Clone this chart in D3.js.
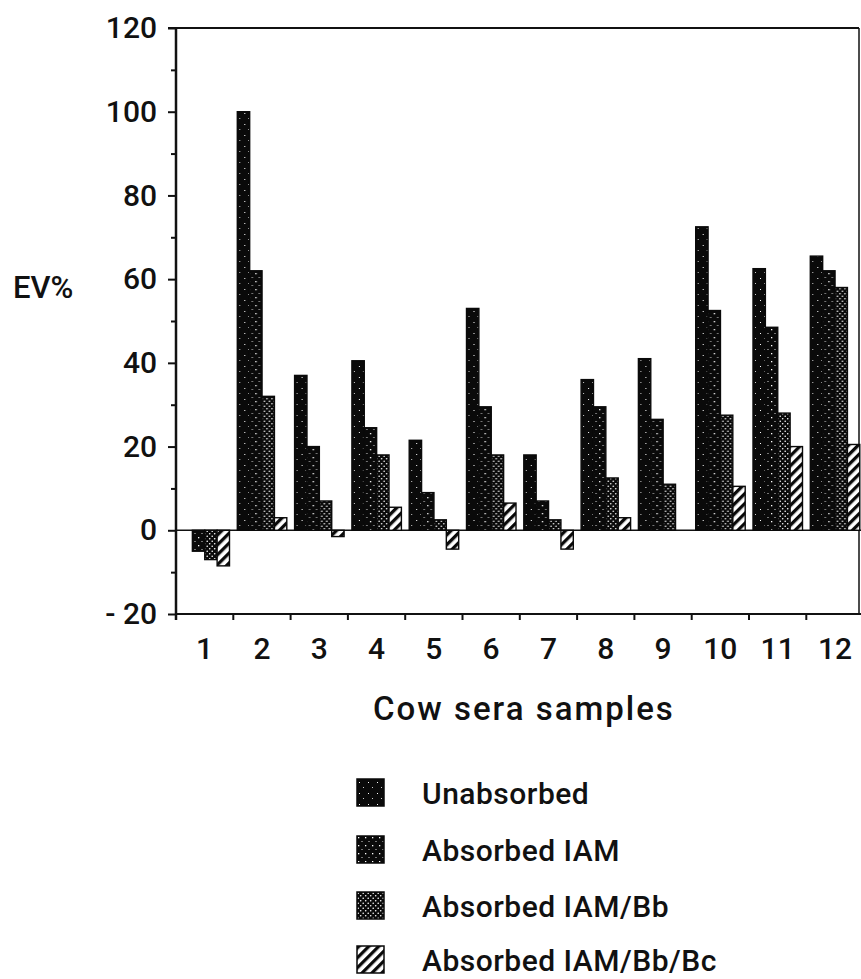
<!DOCTYPE html>
<html>
<head>
<meta charset="utf-8">
<script src="https://cdn.jsdelivr.net/npm/d3@7"></script>
<style>
  body { margin: 0; background: #fff; }
  text { font-family: Roboto, "Liberation Sans", Arial, sans-serif; font-weight: 500; fill: #111; }
</style>
</head>
<body>
<svg id="chart"></svg>
<script>
// cow sera samples on the x axis
const samples = ["1", "2", "3", "4", "5", "6", "7", "8", "9", "10", "11", "12"];
const seriesNames = ["Unabsorbed", "Absorbed IAM", "Absorbed IAM/Bb", "Absorbed IAM/Bb/Bc"];

// EV%
const unabsorbed = [0, 100, 37, 40.5, 21.5, 53, 18, 36, 41, 72.5, 62.5, 65.5];
const absorbedIAM = [-5, 62, 20, 24.5, 9, 29.5, 7, 29.5, 26.5, 52.5, 48.5, 62];
const absorbedIAMBb = [-7, 32, 7, 18, 2.5, 18, 2.5, 12.5, 11, 27.5, 28, 58];
const absorbedIAMBbBc = [-8.5, 3, -1.5, 5.5, -4.5, 6.5, -4.5, 3, 0, 10.5, 20, 20.5];

const yMajorTicks = [-20, 0, 20, 40, 60, 80, 100, 120];
const yMinorTicks = [-10, 10, 30, 50, 70, 90, 110];

const width = 861;
const height = 979;
const margin = { top: 28, right: 2, bottom: 365, left: 176 };

const svg = d3.select("#chart").attr("width", width).attr("height", height);

// patterns for the four series
const defs = svg.append("defs");
const patIds = ["pat-unabs", "pat-iam", "pat-bb", "pat-bc"];

const p0 = defs.append("pattern").attr("id", patIds[0])
  .attr("patternUnits", "userSpaceOnUse").attr("width", 9).attr("height", 11);
p0.append("rect").attr("width", 9).attr("height", 11).attr("fill", "#0a0a0a");
p0.append("rect").attr("x", 2).attr("y", 3).attr("width", 1).attr("height", 1).attr("fill", "#fff");
p0.append("rect").attr("x", 6).attr("y", 8).attr("width", 1).attr("height", 1).attr("fill", "#ccc");

const p1 = defs.append("pattern").attr("id", patIds[1])
  .attr("patternUnits", "userSpaceOnUse").attr("width", 7).attr("height", 8);
p1.append("rect").attr("width", 7).attr("height", 8).attr("fill", "#0a0a0a");
p1.append("rect").attr("x", 1).attr("y", 1).attr("width", 1.3).attr("height", 1.3).attr("fill", "#fff");
p1.append("rect").attr("x", 4.5).attr("y", 5).attr("width", 1).attr("height", 1).attr("fill", "#ddd");

const p2 = defs.append("pattern").attr("id", patIds[2])
  .attr("patternUnits", "userSpaceOnUse").attr("width", 5).attr("height", 5);
p2.append("rect").attr("width", 5).attr("height", 5).attr("fill", "#0a0a0a");
p2.append("circle").attr("cx", 1.2).attr("cy", 1.2).attr("r", 0.8).attr("fill", "#fff");
p2.append("circle").attr("cx", 3.7).attr("cy", 3.7).attr("r", 0.8).attr("fill", "#fff");

const p3 = defs.append("pattern").attr("id", patIds[3])
  .attr("patternUnits", "userSpaceOnUse").attr("width", 7).attr("height", 7)
  .attr("patternTransform", "rotate(45)");
p3.append("rect").attr("width", 7).attr("height", 7).attr("fill", "#fff");
p3.append("rect").attr("width", 3.3).attr("height", 7).attr("fill", "#0a0a0a");

// scales
const x = d3.scaleBand()
  .domain(samples)
  .range([margin.left, margin.left + 57.3 * samples.length]);

const xSub = d3.scaleBand()
  .domain(seriesNames)
  .range([4, 53.5]);

// y(-20) = 614, y(120) = 28
const y = d3.scaleLinear()
  .domain([-20, 120])
  .range([height - margin.bottom, margin.top]);

const table = samples.map((s, i) => ({
  sample: s,
  values: [unabsorbed[i], absorbedIAM[i], absorbedIAMBb[i], absorbedIAMBbBc[i]]
}));

// frame: top and right lines
svg.append("line")
  .attr("x1", margin.left - 8).attr("x2", 859)
  .attr("y1", y(120)).attr("y2", y(120))
  .attr("stroke", "#111").attr("stroke-width", 2);
svg.append("line")
  .attr("x1", 859).attr("x2", 859)
  .attr("y1", y(120)).attr("y2", y(-20))
  .attr("stroke", "#111").attr("stroke-width", 1.5);

// zero line
svg.append("line")
  .attr("x1", margin.left).attr("x2", width)
  .attr("y1", y(0)).attr("y2", y(0))
  .attr("stroke", "#111").attr("stroke-width", 1.5);

// bars
const groups = svg.selectAll("g.sample")
  .data(table)
  .enter()
  .append("g")
  .attr("class", "sample")
  .attr("transform", (d) => `translate(${x(d.sample)},0)`);

groups.selectAll("rect")
  .data((d) => d.values.map((v, k) => ({ name: seriesNames[k], k, v })))
  .enter()
  .filter((d) => d.v !== 0)
  .append("rect")
  .attr("x", (d) => xSub(d.name))
  .attr("width", xSub.bandwidth())
  .attr("y", (d) => y(Math.max(0, d.v)))
  .attr("height", (d) => Math.abs(y(d.v) - y(0)))
  .attr("fill", (d) => `url(#${patIds[d.k]})`)
  .attr("stroke", "#0a0a0a")
  .attr("stroke-width", 1.4);

// y axis
const yAxisMinor = d3.axisLeft(y).tickValues(yMinorTicks).tickSize(5).tickFormat("");
svg.append("g")
  .attr("transform", `translate(${margin.left},0)`)
  .call(yAxisMinor)
  .call((g) => g.select(".domain").remove())
  .selectAll("line").attr("stroke", "#111").attr("stroke-width", 2);

const yAxis = d3.axisLeft(y)
  .tickValues(yMajorTicks)
  .tickSize(8)
  .tickPadding(11)
  .tickFormat((d) => (d < 0 ? "- " + Math.abs(d) : d));

const yAxisG = svg.append("g")
  .attr("transform", `translate(${margin.left},0)`)
  .call(yAxis);
yAxisG.select(".domain").attr("stroke", "#111").attr("stroke-width", 2.5)
  .attr("d", `M0,${y(120)}V${y(-20) + 6}`);
yAxisG.selectAll(".tick line").attr("stroke", "#111").attr("stroke-width", 2);
yAxisG.selectAll(".tick text")
  .attr("font-size", 30)
  .attr("fill", "#111")
  .style("font-family", "Roboto, 'Liberation Sans', Arial, sans-serif")
  .style("font-weight", 500);

// x axis
const xAxis = d3.axisBottom(x).tickSize(0).tickPadding(24);
const xAxisG = svg.append("g")
  .attr("transform", `translate(0,${y(-20)})`)
  .call(xAxis);
xAxisG.select(".domain").attr("stroke", "#111").attr("stroke-width", 2)
  .attr("d", `M${margin.left},0H${width}`);
xAxisG.selectAll(".tick text")
  .attr("font-size", 30)
  .attr("fill", "#111")
  .style("font-family", "Roboto, 'Liberation Sans', Arial, sans-serif")
  .style("font-weight", 500);

// ticks at the sample boundaries
xAxisG.selectAll("line.bound")
  .data(samples)
  .enter()
  .append("line")
  .attr("class", "bound")
  .attr("x1", (d) => x(d)).attr("x2", (d) => x(d))
  .attr("y1", 0).attr("y2", 6)
  .attr("stroke", "#111").attr("stroke-width", 2);

// axis titles
svg.append("text")
  .attr("x", 13)
  .attr("y", 298)
  .attr("font-size", 31)
  .text("EV%");

svg.append("text")
  .attr("x", 373)
  .attr("y", 720)
  .attr("font-size", 33)
  .attr("letter-spacing", 2)
  .text("Cow sera samples");

// legend
const legendTop = [779, 836, 892, 946];
const legend = svg.selectAll("g.legend")
  .data(seriesNames)
  .enter()
  .append("g")
  .attr("class", "legend")
  .attr("transform", (d, i) => `translate(357,${legendTop[i]})`);

legend.append("rect")
  .attr("width", 27)
  .attr("height", 27)
  .attr("fill", (d, i) => `url(#${patIds[i]})`)
  .attr("stroke", "#0a0a0a")
  .attr("stroke-width", 1.5);

legend.append("text")
  .attr("x", 65)
  .attr("y", 25)
  .attr("font-size", 30)
  .attr("letter-spacing", 0.5)
  .text((d) => d);
</script>
</body>
</html>
